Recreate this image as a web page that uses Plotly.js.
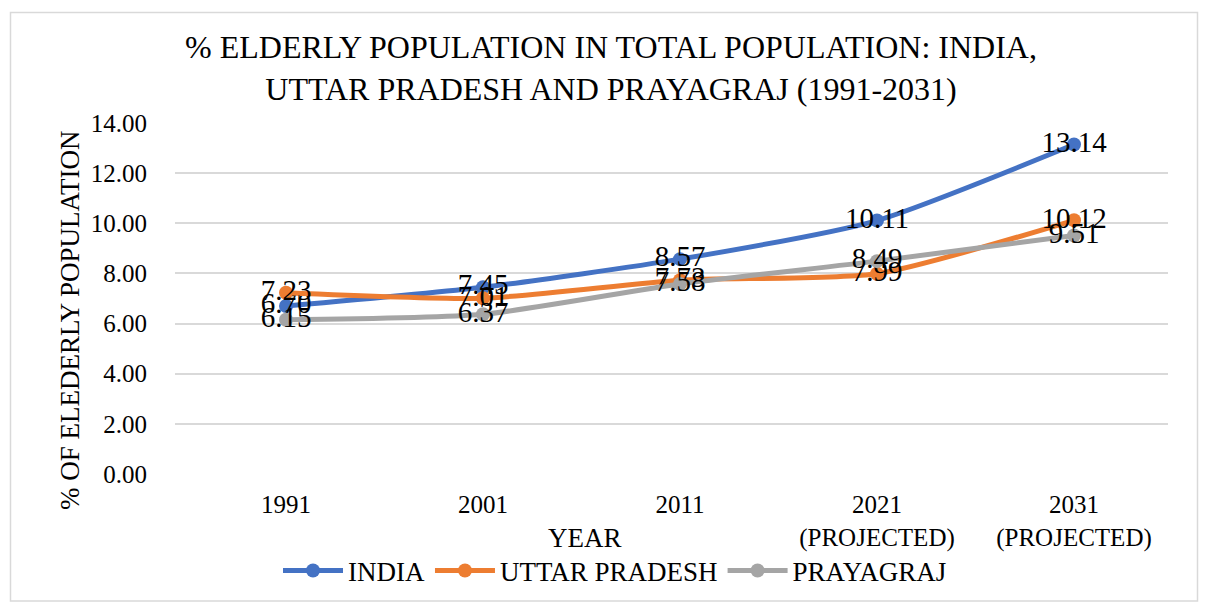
<!DOCTYPE html>
<html>
<head>
<meta charset="utf-8">
<script src="https://cdn.plot.ly/plotly-3.0.1.min.js"></script>
<style>html,body{margin:0;padding:0;background:#fff;}#chart{width:1208px;height:603px;}</style>
</head>
<body>
<div id="chart"></div>
<script>
const categories = ["1991", "2001", "2011", "2021<br>(PROJECTED)", "2031<br>(PROJECTED)"];
const india = [6.70, 7.45, 8.57, 10.11, 13.14];
const uttarPradesh = [7.23, 7.01, 7.73, 7.99, 10.12];
const prayagraj = [6.15, 6.37, 7.58, 8.49, 9.51];
const yTicks = [0, 2, 4, 6, 8, 10, 12, 14];

const font = "Liberation Serif";
const L = 175, R = 1168, T = 123, B = 474, W = 1208, H = 603;
const pw = R - L, ph = B - T;
const px = x => (x - L) / pw;
const py = y => (B - y) / ph;

function series(name, vals, color) {
  return {
    x: categories, y: vals, name: name, type: 'scatter', mode: 'lines+markers+text',
    line: {color: color, width: 5, shape: 'spline', smoothing: 0.6},
    marker: {color: color, size: 14},
    text: vals.map(v => v.toFixed(2)),
    textposition: 'middle center',
    textfont: {family: font, size: 29, color: '#000'},
    cliponaxis: false
  };
}

const data = [
  series('INDIA', india, '#4472C4'),
  series('UTTAR PRADESH', uttarPradesh, '#ED7D31'),
  series('PRAYAGRAJ', prayagraj, '#A5A5A5')
];

const layout = {
  width: W, height: H,
  margin: {l: L, r: W - R, t: T, b: H - B, autoexpand: false},
  paper_bgcolor: '#fff', plot_bgcolor: '#fff',
  font: {family: font, color: '#000', size: 25},
  showlegend: true,
  title: {
    text: '% ELDERLY POPULATION IN TOTAL POPULATION: INDIA,<br>UTTAR PRADESH AND PRAYAGRAJ (1991-2031)',
    font: {family: font, size: 32, color: '#000'},
    x: 611 / W, xanchor: 'center', xref: 'container',
    y: 1 - 58 / H, yanchor: 'top', yref: 'container'
  },
  xaxis: {
    type: 'category', automargin: false,
    range: [-(286 - L) / 197, -(286 - L) / 197 + pw / 197],
    showgrid: false, zeroline: false, showline: false,
    ticks: 'outside', ticklen: 8, tickcolor: 'rgba(0,0,0,0)',
    tickfont: {family: font, size: 25, color: '#000'},
    fixedrange: true
  },
  yaxis: {
    automargin: false,
    range: [0, 14], tickvals: yTicks, ticktext: yTicks.map(v => v.toFixed(2)),
    showgrid: true, gridcolor: '#d9d9d9', gridwidth: 2,
    zeroline: false, showline: false,
    ticks: 'outside', ticklen: 22, tickcolor: 'rgba(0,0,0,0)',
    tickfont: {family: font, size: 25, color: '#000'},
    fixedrange: true
  },
  legend: {
    orientation: 'h', x: px(615), xanchor: 'center', y: py(571), yanchor: 'middle',
    font: {family: font, size: 27, color: '#000'},
    itemwidth: 60, tracegroupgap: 0, bgcolor: 'rgba(0,0,0,0)'
  },
  annotations: [
    {text: 'YEAR', xref: 'paper', yref: 'paper', x: px(585), y: py(538), xanchor: 'center', yanchor: 'middle',
     showarrow: false, font: {family: font, size: 27, color: '#000'}},
    {text: '% OF ELEDERLY POPULATION', xref: 'paper', yref: 'paper', x: px(70), y: py(320), xanchor: 'center', yanchor: 'middle',
     textangle: -90, showarrow: false, font: {family: font, size: 27, color: '#000'}}
  ],
  shapes: [
    {type: 'rect', xref: 'paper', yref: 'paper', x0: px(10.5), x1: px(1197.5), y0: py(601), y1: py(12.5),
     line: {color: '#d9d9d9', width: 1.5}, fillcolor: 'rgba(0,0,0,0)', layer: 'below'}
  ]
};

Plotly.newPlot('chart', data, layout, {displayModeBar: false, staticPlot: true});
</script>
</body>
</html>
